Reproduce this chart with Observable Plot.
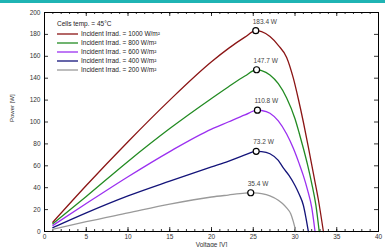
<!DOCTYPE html>
<html><head><meta charset="utf-8">
<script src="https://cdn.jsdelivr.net/npm/d3@7"></script>
<script src="https://cdn.jsdelivr.net/npm/@observablehq/plot@0.6"></script>
<style>
body{margin:0;background:#fff;font-family:"Liberation Sans",Arial,sans-serif}
#c{position:relative;width:385px;height:247px;overflow:hidden}
#bar{position:absolute;left:0;top:0;width:385px;height:3px;background:#1fb4b4}
</style>
</head><body><div id="c"></div>
<script>
const irradiance = [1000, 800, 600, 400, 200];
const seriesColors = ["#8b1515", "#228b22", "#9b30f0", "#14147a", "#9a9a9a"];
const legendLabels = ["Incident Irrad. = 1000 W/m²", "Incident Irrad. = 800 W/m²", "Incident Irrad. = 600 W/m²", "Incident Irrad. = 400 W/m²", "Incident Irrad. = 200 W/m²"];
const legendTitle = "Cells temp. = 45°C";

const v1000 = [1, 5, 10, 15, 20, 22, 24, 25.3, 26, 27, 28, 29, 29.8, 30.4, 31, 31.6, 32.2, 32.8, 33.4];
const p1000 = [8.5, 42, 82, 120, 155, 167, 177.5, 183.4, 182.5, 178, 170, 159, 140, 121, 100, 77, 53, 29, 0];
const v800 = [1, 5, 10, 15, 20, 22, 24, 25.4, 26, 27, 28, 29, 30, 30.5, 31, 31.5, 32, 32.5, 32.9];
const p800 = [7, 32, 64, 94, 121.5, 132, 142, 147.7, 147, 143, 135, 122, 103, 90, 76, 61, 44, 24, 0];
const v600 = [1, 5, 10, 15, 20, 22, 24, 25.5, 26, 27, 28, 29, 29.8, 30.5, 31, 31.5, 32, 32.4];
const p600 = [5.5, 25.5, 50, 73, 93.5, 100, 106.5, 110.8, 110.5, 108, 101, 89, 76, 62, 51, 38, 22, 0];
const v400 = [1, 5, 10, 15, 20, 22, 24, 25.35, 26, 27, 28, 28.6, 29.3, 30, 30.5, 31, 31.3, 31.6];
const p400 = [3.5, 17, 32.5, 46, 59, 64, 70, 73.2, 73, 71, 65, 58, 51, 42, 34, 24, 13, 0];
const v200 = [1, 5, 10, 15, 20, 22, 24, 24.7, 25, 26, 27, 28, 28.5, 29, 29.5, 29.8, 30.1];
const p200 = [2, 9, 17, 25, 31.5, 33.3, 35, 35.4, 35.3, 34.5, 32.5, 28.5, 25.5, 21.5, 16, 9, 0];

const maxVoltage = [25.3, 25.4, 25.5, 25.35, 24.7];
const maxPower = [183.4, 147.7, 110.8, 73.2, 35.4];
const maxLabels = ["183.4 W", "147.7 W", "110.8 W", "73.2 W", "35.4 W"];

const xTicks = [0, 5, 10, 15, 20, 25, 30, 35, 40];
const yTicks = [0, 20, 40, 60, 80, 100, 120, 140, 160, 180, 200];
const xMinor = d3.range(0, 41, 1);

const seriesV = [v1000, v800, v600, v400, v200];
const seriesP = [p1000, p800, p600, p400, p200];
const rows = [];
irradiance.forEach((irr, k) => seriesV[k].forEach((v, i) => rows.push({irr, v, p: seriesP[k][i]})));
const maxima = irradiance.map((irr, k) => ({irr, v: maxVoltage[k], p: maxPower[k], label: maxLabels[k]}));

const innerH = 247 - 12 - 16;
const innerW = 385 - 44 - 7;

const chart = Plot.plot({
  width: 385, height: 247,
  marginLeft: 44, marginRight: 7, marginTop: 12, marginBottom: 16,
  x: {domain: [0, 40]},
  y: {domain: [0, 200]},
  color: {domain: irradiance, range: seriesColors},
  style: {fontFamily: "'Liberation Sans', Arial, sans-serif", fontSize: "6px", color: "#333", background: "#fff"},
  marks: [
    Plot.ruleX(xMinor, {insetTop: innerH - 2, stroke: "#000", strokeWidth: 0.8}),
    Plot.ruleX(xTicks, {insetTop: innerH - 4, stroke: "#000", strokeWidth: 0.8}),
    Plot.ruleX(xMinor, {insetBottom: innerH - 2, stroke: "#000", strokeWidth: 0.8}),
    Plot.ruleX(xTicks, {insetBottom: innerH - 4, stroke: "#000", strokeWidth: 0.8}),
    Plot.ruleY(yTicks, {insetRight: innerW - 4, stroke: "#000", strokeWidth: 0.8}),
    Plot.ruleY(yTicks, {insetLeft: innerW - 4, stroke: "#000", strokeWidth: 0.8}),
    Plot.axisX({ticks: xTicks, tickSize: 0, tickPadding: 3, label: null, fontSize: 6.5}),
    Plot.axisY({ticks: yTicks, tickSize: 0, tickPadding: 4, label: null, fontSize: 6.5}),
    Plot.text(["Voltage [V]"], {frameAnchor: "bottom", dy: 15, fontSize: 6.5, fill: "#333"}),
    Plot.text(["Power [W]"], {frameAnchor: "left", dx: -32, rotate: -90, fontSize: 6, fill: "#333"}),
    Plot.line(rows, {x: "v", y: "p", z: "irr", stroke: "irr", curve: "monotone-x", strokeWidth: 1.3}),
    Plot.dot(maxima, {x: "v", y: "p", r: 3, stroke: "#000", fill: "#fff", strokeWidth: 1.2}),
    Plot.text(maxima, {x: "v", y: "p", text: "label", dx: -3, dy: -9, textAnchor: "start", fontSize: 6.5, fill: "#444"}),
    Plot.frame({stroke: "#000", strokeWidth: 1})
  ]
});

const c = document.getElementById("c");
c.appendChild(chart);
const bar = document.createElement("div");
bar.id = "bar";
c.appendChild(bar);

// legend inside the plot
const svg = d3.select(chart);
const lg = svg.append("g")
  .attr("font-family", "'Liberation Sans', Arial, sans-serif")
  .attr("font-size", 6.5).attr("fill", "#222").attr("text-anchor", "start");
lg.append("text").attr("x", 57).attr("y", 26).attr("text-anchor", "start").text(legendTitle);
legendLabels.forEach((t, i) => {
  const y = 34 + i * 9;
  lg.append("line").attr("x1", 57).attr("x2", 78).attr("y1", y).attr("y2", y)
    .attr("stroke", seriesColors[i]).attr("stroke-width", 1.3);
  lg.append("text").attr("x", 81).attr("y", y + 2.3).attr("text-anchor", "start").text(t);
});
</script>
</body></html>
